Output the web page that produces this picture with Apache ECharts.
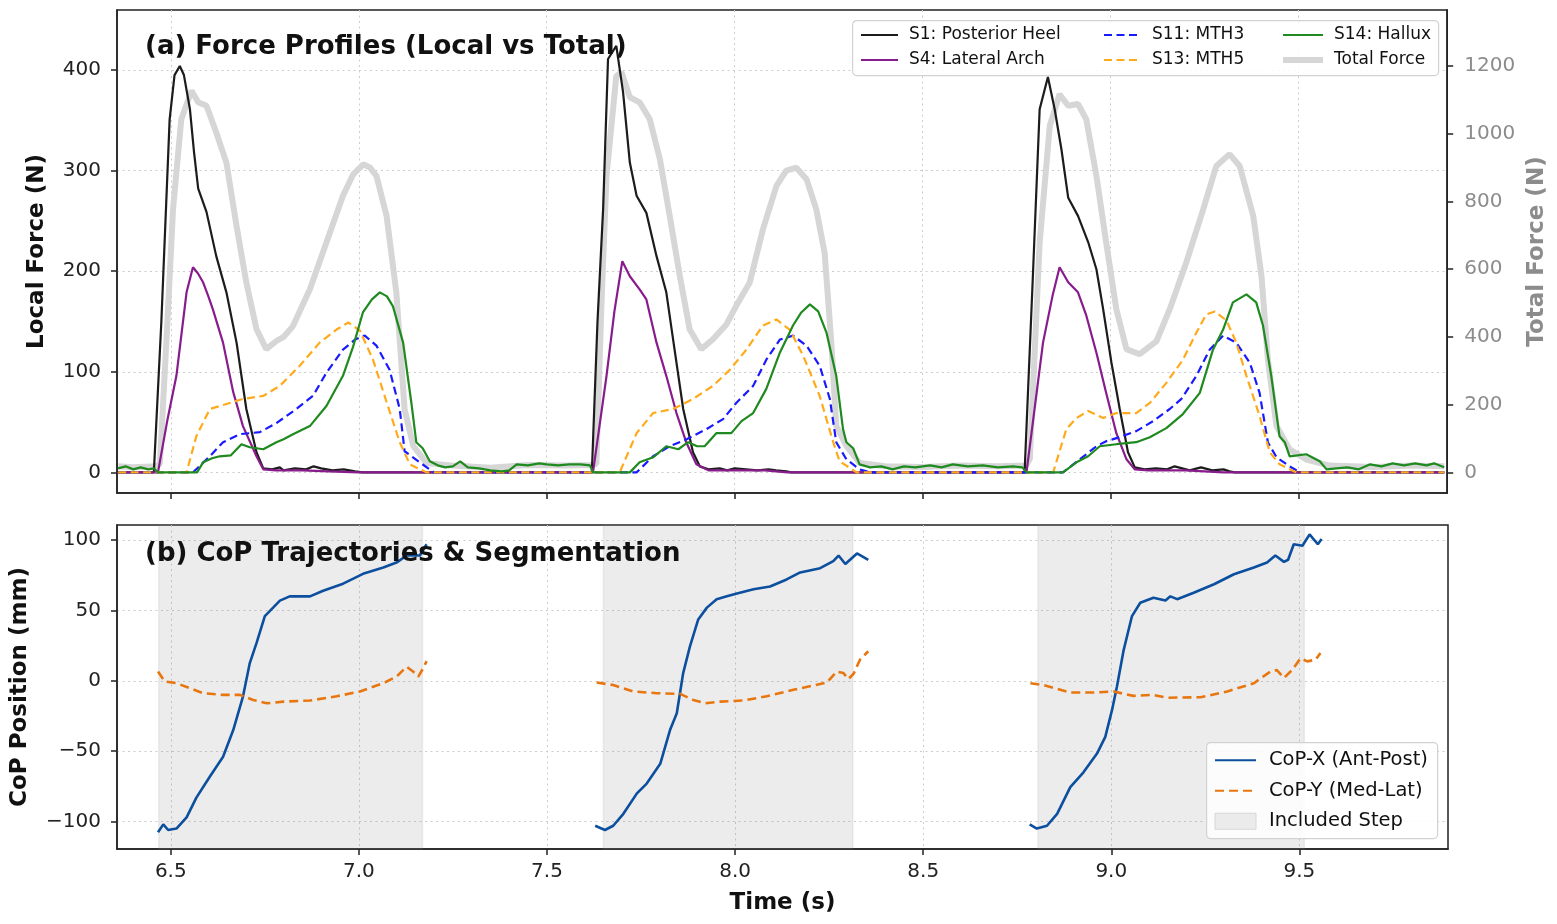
<!DOCTYPE html>
<html>
<head>
<meta charset="utf-8">
<title>Force Profiles and CoP Trajectories</title>
<script src="https://cdn.jsdelivr.net/npm/echarts@6.0.0/dist/echarts.min.js"></script>
<style>
  html, body { margin: 0; padding: 0; background: #fff; }
  #chart { width: 1557px; height: 924px; }
</style>
</head>
<body>
<div id="chart"></div>
<script>
// tick values
const timeTicks = [6.5, 7.0, 7.5, 8.0, 8.5, 9.0, 9.5];
const localTicks = [0, 100, 200, 300, 400];
const totalTicks = [0, 200, 400, 600, 800, 1000, 1200];
const copTicks = [-100, -50, 0, 50, 100];

// [time (s), local force (N)]
const s1Heel = [[6.36,0],[6.455,0],[6.475,150],[6.497,351],[6.51,395],[6.524,404],[6.535,395],[6.551,361],[6.562,318],[6.573,282],[6.595,259],[6.621,215],[6.648,179],[6.675,129],[6.701,63],[6.728,20],[6.746,4],[6.77,3],[6.79,5],[6.80,2],[6.83,4],[6.86,3],[6.88,6],[6.90,4],[6.93,2],[6.96,3],[6.99,1],[7.01,0],
  [7.62,0],[7.635,150],[7.650,262],[7.663,411],[7.685,424],[7.703,378],[7.721,308],[7.739,275],[7.765,258],[7.792,215],[7.818,179],[7.840,122],[7.863,63],[7.889,20],[7.907,6],[7.93,3],[7.96,4],[7.98,2],[8.0,4],[8.03,3],[8.06,2],[8.09,3],[8.11,2],[8.137,1],[8.15,0],
  [8.771,0],[8.793,195],[8.811,361],[8.833,393],[8.851,361],[8.869,321],[8.887,273],[8.913,255],[8.940,229],[8.962,202],[8.980,162],[9.002,109],[9.024,63],[9.046,20],[9.064,5],[9.09,3],[9.12,4],[9.15,3],[9.17,6],[9.19,4],[9.21,2],[9.24,5],[9.27,2],[9.30,3],[9.316,1],[9.33,0],[9.887,0]];

const s4Arch = [[6.36,0],[6.466,0],[6.49,50],[6.515,96],[6.542,179],[6.559,204],[6.572,198],[6.586,189],[6.60,175],[6.612,162],[6.639,129],[6.666,80],[6.692,46],[6.728,16],[6.746,3],[6.78,2],[6.85,2],[6.92,1],[7.0,0],
  [7.623,0],[7.659,96],[7.68,160],[7.701,210],[7.721,195],[7.747,182],[7.765,172],[7.792,129],[7.818,96],[7.845,59],[7.871,30],[7.898,8],[7.93,2],[8.0,2],[8.08,2],[8.14,0],
  [8.776,0],[8.820,129],[8.845,175],[8.864,204],[8.887,189],[8.913,179],[8.935,156],[8.962,119],[8.988,79],[9.015,39],[9.042,13],[9.064,3],[9.10,2],[9.2,2],[9.3,0],[9.887,0]];

const s11Mth3 = [[6.36,0],[6.559,0],[6.604,16],[6.639,30],[6.684,38],[6.737,40],[6.781,49],[6.834,63],[6.878,76],[6.914,99],[6.958,122],[6.99,132],[7.016,136],[7.047,126],[7.082,102],[7.109,63],[7.122,21],[7.162,10],[7.20,0],
  [7.739,0],[7.783,16],[7.827,26],[7.872,33],[7.925,43],[7.969,53],[8.004,69],[8.049,86],[8.084,112],[8.120,132],[8.155,136],[8.191,126],[8.226,106],[8.253,73],[8.270,30],[8.297,13],[8.332,3],[8.36,0],
  [8.873,0],[8.918,13],[8.962,26],[8.988,31],[9.024,35],[9.068,41],[9.113,51],[9.157,63],[9.188,73],[9.228,96],[9.263,122],[9.299,136],[9.334,129],[9.370,109],[9.396,79],[9.418,30],[9.441,15],[9.476,6],[9.503,0],[9.887,0]];

const s13Mth5 = [[6.36,0],[6.542,0],[6.568,36],[6.604,63],[6.648,68],[6.692,73],[6.746,76],[6.790,86],[6.843,106],[6.896,129],[6.941,142],[6.972,149],[7.003,141],[7.038,112],[7.074,70],[7.109,30],[7.136,8],[7.18,0],
  [7.694,0],[7.739,39],[7.783,59],[7.836,63],[7.889,73],[7.942,86],[7.987,102],[8.031,122],[8.075,146],[8.111,152],[8.146,142],[8.182,116],[8.226,76],[8.262,30],[8.279,11],[8.324,0],
  [8.847,0],[8.882,43],[8.909,54],[8.940,61],[8.980,54],[9.015,59],[9.068,59],[9.104,69],[9.148,89],[9.192,112],[9.228,139],[9.254,157],[9.277,160],[9.308,151],[9.334,129],[9.361,96],[9.396,56],[9.423,20],[9.449,8],[9.494,0],[9.887,0]];

const s14Hallux = [[6.36,4],[6.38,6],[6.40,3],[6.42,5],[6.44,3],[6.455,4],[6.466,0],[6.57,0],[6.586,10],[6.61,14],[6.63,16],[6.66,17],[6.688,28],[6.71,25],[6.746,23],[6.781,30],[6.80,33],[6.825,38],[6.87,46],[6.914,66],[6.958,96],[6.985,125],[7.011,159],[7.035,172],[7.056,179],[7.075,175],[7.091,165],[7.118,129],[7.14,69],[7.153,30],[7.17,24],[7.189,11],[7.21,7],[7.23,5],[7.25,6],[7.27,11],[7.29,5],[7.32,4],[7.35,2],[7.38,1],[7.40,2],[7.42,8],[7.45,7],[7.48,9],[7.50,8],[7.53,7],[7.56,8],[7.59,8],[7.615,7],[7.623,0],
  [7.721,0],[7.747,10],[7.783,15],[7.818,26],[7.85,23],[7.876,30],[7.90,26],[7.92,26],[7.951,39],[7.991,39],[8.018,51],[8.049,59],[8.084,83],[8.12,119],[8.155,146],[8.177,159],[8.2,167],[8.222,160],[8.244,139],[8.27,96],[8.288,43],[8.297,30],[8.315,24],[8.332,8],[8.36,5],[8.39,6],[8.42,3],[8.45,6],[8.48,5],[8.52,7],[8.55,5],[8.58,8],[8.62,6],[8.66,7],[8.70,5],[8.74,6],[8.765,5],[8.776,0],
  [8.873,0],[8.909,10],[8.940,16],[8.971,26],[9.015,28],[9.068,30],[9.104,35],[9.148,44],[9.192,58],[9.237,79],[9.272,122],[9.299,142],[9.325,169],[9.361,177],[9.387,169],[9.405,146],[9.427,96],[9.449,36],[9.463,30],[9.476,16],[9.520,18],[9.556,11],[9.574,3],[9.60,4],[9.63,5],[9.66,3],[9.69,8],[9.72,6],[9.75,9],[9.78,7],[9.81,9],[9.84,7],[9.86,9],[9.887,5]];

// [time (s), total force (N)]
const totalForce = [[6.36,18],[6.40,15],[6.46,18],[6.471,25],[6.49,420],[6.506,777],[6.528,1043],[6.555,1127],[6.573,1093],[6.595,1083],[6.621,1004],[6.648,915],[6.675,728],[6.701,561],[6.728,423],[6.754,364],[6.781,388],[6.80,400],[6.825,432],[6.870,541],[6.914,679],[6.958,817],[6.985,880],[7.012,910],[7.03,900],[7.047,876],[7.074,758],[7.100,531],[7.122,186],[7.145,78],[7.180,28],[7.25,20],[7.35,14],[7.45,22],[7.55,20],[7.62,22],
  [7.632,25],[7.645,480],[7.659,876],[7.685,1171],[7.699,1181],[7.721,1108],[7.747,1093],[7.774,1043],[7.801,925],[7.827,758],[7.854,580],[7.880,423],[7.911,364],[7.942,393],[7.978,437],[8.004,492],[8.040,561],[8.075,718],[8.111,846],[8.137,891],[8.164,900],[8.191,866],[8.217,777],[8.239,649],[8.257,383],[8.270,137],[8.297,78],[8.332,28],[8.40,18],[8.50,16],[8.60,20],[8.70,18],[8.775,20],
  [8.785,40],[8.798,360],[8.811,679],[8.838,1024],[8.864,1117],[8.887,1083],[8.913,1088],[8.935,1043],[8.962,876],[8.988,679],[9.015,482],[9.042,364],[9.077,349],[9.122,388],[9.157,482],[9.201,620],[9.246,777],[9.281,905],[9.316,940],[9.343,905],[9.379,758],[9.401,580],[9.418,334],[9.441,137],[9.476,68],[9.520,38],[9.582,20],[9.70,16],[9.80,20],[9.887,18]];

// [time (s), CoP (mm)], null breaks between steps
const copX = [[6.466,-107.6],[6.480,-102],[6.493,-106],[6.515,-105],[6.542,-97],[6.568,-83],[6.604,-68],[6.639,-54],[6.666,-35],[6.692,-11],[6.710,12.6],[6.728,27],[6.750,46],[6.772,52],[6.790,57],[6.816,60],[6.870,60],[6.905,64],[6.958,69],[7.011,76],[7.065,80.5],[7.100,84],[7.127,89],[7.162,89],[7.180,97],[7.3,null],
  [7.628,-103],[7.654,-106],[7.676,-103],[7.703,-94.5],[7.739,-80],[7.765,-73],[7.801,-59],[7.827,-35],[7.845,-23],[7.862,5.5],[7.880,24.5],[7.902,43.6],[7.925,52],[7.951,58],[7.978,60],[8.005,62],[8.049,65],[8.093,67],[8.137,72],[8.173,77],[8.226,80],[8.261,85],[8.275,89],[8.293,83],[8.324,90.5],[8.354,86],[8.5,null],
  [8.783,-102],[8.802,-105],[8.829,-103],[8.856,-94.5],[8.891,-75.5],[8.926,-65],[8.962,-51.7],[8.984,-39.8],[9.002,-20.7],[9.015,-4],[9.033,22],[9.055,46],[9.077,55.5],[9.112,59],[9.144,57],[9.157,60],[9.175,58],[9.219,62.6],[9.273,68.6],[9.326,75.7],[9.379,80.5],[9.414,84],[9.436,89],[9.459,84.5],[9.47,86],[9.485,97],[9.508,96],[9.527,104],[9.549,97],[9.559,100.7]];

const copY = [[6.466,6.6],[6.484,-0.5],[6.515,-1.7],[6.586,-8.8],[6.639,-10],[6.684,-10],[6.719,-13.6],[6.755,-16],[6.799,-14.8],[6.870,-14],[6.941,-11],[7.003,-7.6],[7.065,-1.7],[7.100,3],[7.127,10],[7.144,6.6],[7.158,3],[7.171,9],[7.180,14],[7.3,null],
  [7.632,-1.2],[7.676,-3],[7.729,-7.6],[7.792,-8.8],[7.854,-9.3],[7.889,-13.6],[7.920,-16],[7.960,-14.8],[8.022,-14],[8.084,-11],[8.155,-6.4],[8.244,-1.2],[8.270,6.6],[8.288,5.5],[8.301,1.2],[8.315,5],[8.332,15],[8.354,21],[8.5,null],
  [8.785,-1.7],[8.820,-3],[8.891,-8.3],[8.953,-8.3],[9.006,-7.6],[9.059,-10.7],[9.112,-10],[9.148,-12],[9.237,-11.7],[9.308,-7.6],[9.379,-1.7],[9.423,6.6],[9.44,7.6],[9.459,2],[9.481,7.8],[9.503,16],[9.521,13.8],[9.543,15],[9.556,19.8]];

// [start (s), end (s)] of included steps
const includedSteps = [[6.468, 7.169], [7.650, 8.313], [8.805, 9.513]];

const FONT = 'DejaVu Sans';
const INK = '#222';
const gridLine = { show: true, lineStyle: { color: '#cccccc', width: 1, type: [2, 3.5] } };
const minus = v => String(v).replace('-', '\u2212');
const hiddenSymbol = { color: 'rgba(0,0,0,0)', borderWidth: 0, opacity: 0 };

function forceLine(name, data, color, dashed) {
  return {
    name: name, type: 'line', xAxisIndex: 0, yAxisIndex: 0, data: data,
    symbol: 'none', color: color, z: 3,
    lineStyle: { color: color, width: 2.2, type: dashed ? [8, 4.5] : 'solid' }
  };
}

function timeAxis(gridIndex, showLabels) {
  return {
    type: 'value', gridIndex: gridIndex, min: 6.357, max: 9.895,
    axisLine: { show: true, onZero: false, lineStyle: { color: INK, width: 1.5 } },
    axisTick: { show: true, length: 6, customValues: timeTicks, lineStyle: { color: INK, width: 1.5 } },
    axisLabel: { show: showLabels, customValues: timeTicks, formatter: v => v.toFixed(1),
      fontSize: 20, color: INK, fontFamily: FONT, margin: 13 },
    splitLine: gridLine
  };
}

const legendText = (size, pad) => ({ fontSize: size, lineHeight: size + 1, fontFamily: FONT, color: '#111', padding: [0, 0, 0, pad] });

const chart = echarts.init(document.getElementById('chart'));
chart.setOption({
  animation: false,
  backgroundColor: '#fff',
  title: [
    { text: '(a) Force Profiles (Local vs Total)', left: 145, top: 34, padding: 0,
      textStyle: { fontSize: 26, fontWeight: 'bold', fontFamily: FONT, color: '#111' } },
    { text: '(b) CoP Trajectories & Segmentation', left: 145, top: 541, padding: 0,
      textStyle: { fontSize: 26, fontWeight: 'bold', fontFamily: FONT, color: '#111' } }
  ],
  grid: [
    { left: 117, top: 10, width: 1331, height: 483, show: true, borderColor: INK, borderWidth: 1.5 },
    { left: 117, top: 525, width: 1331, height: 324, show: true, borderColor: INK, borderWidth: 1.5 }
  ],
  xAxis: [
    timeAxis(0, false),
    Object.assign(timeAxis(1, true), {
      name: 'Time (s)', nameLocation: 'middle', nameGap: 43,
      nameTextStyle: { fontSize: 23, fontWeight: 'bold', color: '#111', fontFamily: FONT }
    })
  ],
  yAxis: [
    { type: 'value', gridIndex: 0, position: 'left', min: -20.5, max: 459.7,
      name: 'Local Force (N)', nameLocation: 'middle', nameGap: 68, nameRotate: 90,
      nameTextStyle: { fontSize: 23, fontWeight: 'bold', color: '#111', fontFamily: FONT },
      axisLine: { show: true, onZero: false, lineStyle: { color: INK, width: 1.5 } },
      axisTick: { show: true, length: 6, customValues: localTicks, lineStyle: { color: INK, width: 1.5 } },
      axisLabel: { customValues: localTicks, formatter: v => String(v), fontSize: 20, color: INK, fontFamily: FONT, margin: 16 },
      splitLine: gridLine },
    { type: 'value', gridIndex: 0, position: 'right', min: -60.9, max: 1365.7,
      name: 'Total Force (N)', nameLocation: 'middle', nameGap: 77, nameRotate: 90,
      nameTextStyle: { fontSize: 23, fontWeight: 'bold', color: '#8c8c8c', fontFamily: FONT },
      axisLine: { show: true, onZero: false, lineStyle: { color: INK, width: 1.5 } },
      axisTick: { show: true, length: 6, customValues: totalTicks, lineStyle: { color: INK, width: 1.5 } },
      axisLabel: { customValues: totalTicks, formatter: v => String(v), fontSize: 20, color: '#8c8c8c', fontFamily: FONT, margin: 17 },
      splitLine: { show: false } },
    { type: 'value', gridIndex: 1, position: 'left', min: -119.5, max: 110.7,
      name: 'CoP Position (mm)', nameLocation: 'middle', nameGap: 85, nameRotate: 90,
      nameTextStyle: { fontSize: 23, fontWeight: 'bold', color: '#111', fontFamily: FONT },
      axisLine: { show: true, onZero: false, lineStyle: { color: INK, width: 1.5 } },
      axisTick: { show: true, length: 6, customValues: copTicks, lineStyle: { color: INK, width: 1.5 } },
      axisLabel: { customValues: copTicks, formatter: minus, fontSize: 20, color: INK, fontFamily: FONT, margin: 16 },
      splitLine: gridLine }
  ],
  legend: [
    { data: ['S1: Posterior Heel', 'S4: Lateral Arch'], orient: 'vertical', left: 855, top: 21,
      itemWidth: 37, itemHeight: 12, itemGap: 7, selectedMode: false, itemStyle: hiddenSymbol,
      textStyle: legendText(17, 6) },
    { data: ['S11: MTH3', 'S13: MTH5'], orient: 'vertical', left: 1098, top: 21,
      itemWidth: 37, itemHeight: 12, itemGap: 7, selectedMode: false, itemStyle: hiddenSymbol,
      textStyle: legendText(17, 6) },
    { data: ['S14: Hallux', { name: 'Total Force', lineStyle: { width: 6 } }], orient: 'vertical', left: 1275, top: 21,
      itemWidth: 40, itemHeight: 12, itemGap: 7, selectedMode: false, itemStyle: hiddenSymbol,
      textStyle: legendText(17, 6) },
    { data: ['CoP-X (Ant-Post)', 'CoP-Y (Med-Lat)',
        { name: 'Included Step', icon: 'rect', itemStyle: { color: '#ebebeb', borderColor: '#d6d6d6', borderWidth: 1, opacity: 1 } }],
      orient: 'vertical', left: 1209, top: 745,
      itemWidth: 41, itemHeight: 16, itemGap: 10, selectedMode: false, itemStyle: hiddenSymbol,
      textStyle: legendText(19.5, 8) }
  ],
  graphic: [
    { type: 'rect', left: 852, top: 20, z: 3, shape: { width: 586, height: 55, r: 4 },
      style: { fill: 'rgba(255,255,255,0.85)', stroke: '#d2d2d2', lineWidth: 1.2 } },
    { type: 'rect', left: 1206, top: 742, z: 3, shape: { width: 231, height: 96, r: 4 },
      style: { fill: 'rgba(255,255,255,0.85)', stroke: '#d2d2d2', lineWidth: 1.2 } }
  ],
  series: [
    { name: 'Total Force', type: 'line', xAxisIndex: 0, yAxisIndex: 1, data: totalForce,
      symbol: 'none', color: '#d6d6d6', z: 2,
      lineStyle: { color: '#d6d6d6', width: 6 } },
    forceLine('S1: Posterior Heel', s1Heel, '#1c1c1c', false),
    forceLine('S4: Lateral Arch', s4Arch, '#881c8c', false),
    forceLine('S11: MTH3', s11Mth3, '#1a1aff', true),
    forceLine('S13: MTH5', s13Mth5, '#ffaa1a', true),
    forceLine('S14: Hallux', s14Hallux, '#1f8a1f', false),
    { name: 'Included Step', type: 'custom', xAxisIndex: 1, yAxisIndex: 2, data: includedSteps,
      encode: { x: [0, 1] }, z: 1, silent: true,
      itemStyle: { color: '#ebebeb', borderColor: '#d6d6d6', borderWidth: 1 },
      renderItem: function (params, api) {
        const cs = params.coordSys;
        const x0 = api.coord([api.value(0), 0])[0];
        const x1 = api.coord([api.value(1), 0])[0];
        return { type: 'rect', shape: { x: x0, y: cs.y, width: x1 - x0, height: cs.height },
          style: { fill: 'rgba(128,128,128,0.15)', stroke: 'rgba(128,128,128,0.12)', lineWidth: 1.5 } };
      } },
    { name: 'CoP-X (Ant-Post)', type: 'line', xAxisIndex: 1, yAxisIndex: 2, data: copX,
      symbol: 'none', color: '#0b4f9e', z: 3, connectNulls: false,
      lineStyle: { color: '#0b4f9e', width: 2.6 } },
    { name: 'CoP-Y (Med-Lat)', type: 'line', xAxisIndex: 1, yAxisIndex: 2, data: copY,
      symbol: 'none', color: '#e8760f', z: 3, connectNulls: false,
      lineStyle: { color: '#e8760f', width: 2.6, type: [9, 5] } }
  ]
});
</script>
</body>
</html>
